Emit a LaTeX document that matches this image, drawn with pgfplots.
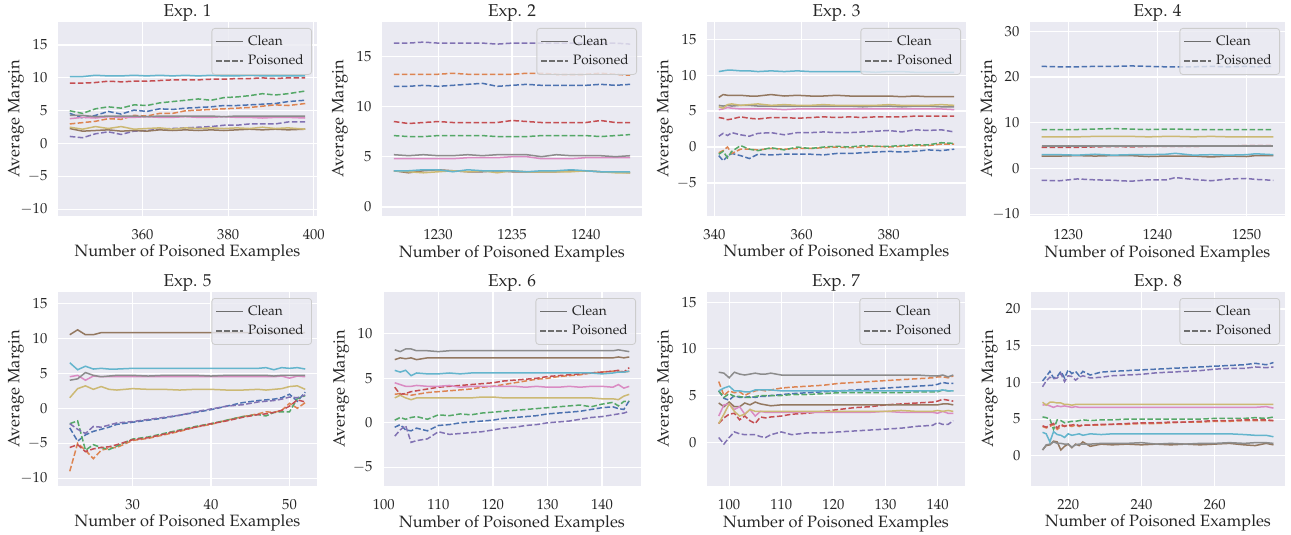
\documentclass[border=0pt]{standalone}
\usepackage[T1]{fontenc}
\usepackage{mathpazo}
\usepackage{pgfplots}
\usepackage{pgfplotstable}
\pgfplotsset{compat=1.18}

\definecolor{bgc}{HTML}{EAEAF2}
\definecolor{txt}{HTML}{262626}
\definecolor{legc}{HTML}{6E6E6E}
\definecolor{c0}{HTML}{4C72B0}
\definecolor{c1}{HTML}{DD8452}
\definecolor{c2}{HTML}{55A868}
\definecolor{c3}{HTML}{C44E52}
\definecolor{c4}{HTML}{8172B3}
\definecolor{c5}{HTML}{937860}
\definecolor{c6}{HTML}{DA8BC3}
\definecolor{c7}{HTML}{8C8C8C}
\definecolor{c8}{HTML}{CCB974}
\definecolor{c9}{HTML}{64B5CD}

% columns: x, classes 0-4 poisoned (dashed), 5-9 clean (solid)
\pgfplotstableread{
x c0 c1 c2 c3 c4 c5 c6 c7 c8 c9
343 4.6 3.0 5.0 9.2 1.1 2.3 3.8 4.3 2.5 10.2
346 3.9 3.2 4.6 9.2 0.9 1.9 4.0 4.3 2.2 10.2
349 4.3 3.4 5.3 9.3 1.5 2.0 3.9 4.1 2.6 10.4
352 4.9 3.8 5.6 9.5 1.8 2.1 4.1 4.2 2.3 10.3
355 4.5 3.7 5.4 9.4 1.4 1.9 4.0 4.2 2.6 10.3
358 5.1 4.3 5.9 9.5 1.9 2.0 4.0 4.2 2.2 10.4
361 4.9 4.2 5.8 9.5 2.0 1.9 4.1 4.1 2.3 10.3
364 5.3 4.6 6.2 9.6 2.2 2.1 4.0 4.2 2.4 10.4
367 5.2 4.6 6.4 9.7 2.3 2.0 4.0 4.2 2.2 10.3
370 5.4 5.0 6.6 9.7 2.4 2.1 4.1 4.2 2.4 10.4
373 5.5 5.1 6.8 9.7 2.5 2.0 4.0 4.2 2.3 10.3
376 5.6 5.2 6.6 9.8 2.6 2.1 4.0 4.2 2.4 10.4
379 5.8 5.3 7.0 9.8 2.8 2.0 4.1 4.1 2.3 10.3
382 5.8 5.4 7.1 9.9 2.8 2.1 4.0 4.2 2.4 10.3
385 5.9 5.5 7.3 9.9 3.0 2.2 4.0 4.2 2.3 10.4
388 6.0 5.7 7.6 10.0 3.0 2.1 3.9 4.2 2.5 10.3
391 6.1 5.9 7.4 9.9 3.0 2.2 4.0 4.2 2.3 10.3
394 6.4 5.8 7.6 10.0 3.3 2.1 4.0 4.2 2.4 10.3
398 6.6 6.1 8.0 10.0 3.3 2.2 3.9 4.2 2.2 10.3
}\expA

\pgfplotstableread{
x c0 c1 c2 c3 c4 c5 c6 c7 c8 c9
1227 12.0 13.2 7.1 8.5 16.3 3.6 4.8 5.2 3.6 3.6
1228 12.0 13.2 7.0 8.3 16.3 3.4 4.8 5.1 3.5 3.6
1229 12.1 13.2 7.0 8.4 16.4 3.6 4.8 5.2 3.4 3.7
1230 12.0 13.2 7.1 8.5 16.3 3.7 4.8 5.1 3.5 3.7
1231 12.1 13.3 7.1 8.4 16.3 3.6 4.8 5.1 3.6 3.5
1232 12.2 13.2 7.1 8.4 16.3 3.5 4.9 5.2 3.5 3.7
1233 12.3 13.2 7.1 8.4 16.3 3.5 4.9 5.1 3.6 3.6
1234 12.0 13.2 7.0 8.4 16.2 3.6 4.9 5.2 3.4 3.6
1235 12.1 13.2 7.0 8.6 16.3 3.5 5.0 5.2 3.6 3.6
1236 12.2 13.3 7.0 8.5 16.3 3.5 5.0 5.2 3.5 3.5
1237 12.1 13.3 7.1 8.4 16.3 3.5 4.8 5.0 3.5 3.6
1238 12.1 13.2 7.1 8.4 16.3 3.5 4.8 5.2 3.5 3.6
1239 12.1 13.2 7.1 8.4 16.3 3.6 4.8 5.1 3.5 3.7
1240 12.1 13.2 7.1 8.4 16.3 3.6 4.9 5.1 3.6 3.6
1241 12.2 13.3 7.0 8.6 16.3 3.5 4.9 5.1 3.5 3.5
1242 12.1 13.2 7.1 8.4 16.3 3.5 4.9 5.0 3.4 3.5
1243 12.2 13.1 7.2 8.4 16.2 3.4 4.9 5.1 3.4 3.5
}\expB

\pgfplotstableread{
x c0 c1 c2 c3 c4 c5 c6 c7 c8 c9
341 -1.2 -0.8 -1.0 4.1 1.5 6.9 5.2 5.8 5.6 10.5
342 -1.9 -0.5 -0.6 4.0 1.9 7.3 5.3 5.7 5.4 10.6
343 -1.3 0.0 -1.5 3.8 1.6 7.2 5.5 5.8 5.9 10.7
344 -0.9 -0.9 -0.6 3.9 2.0 7.2 5.4 5.7 6.0 10.7
346 -1.2 -0.3 0.2 4.2 1.7 7.2 5.3 5.8 5.8 10.6
348 -1.6 -0.3 -0.3 4.0 1.5 7.1 5.3 5.8 5.9 10.6
350 -1.0 -0.4 -0.5 3.9 1.9 7.1 5.3 5.7 6.0 10.5
353 -1.1 -0.2 -0.1 4.1 2.0 7.3 5.3 5.7 5.8 10.6
356 -1.0 -0.3 -0.4 4.1 1.7 7.1 5.2 5.7 5.9 10.5
359 -1.0 -0.2 0.0 4.0 2.0 7.2 5.3 5.7 5.8 10.6
362 -1.0 -0.2 -0.2 4.1 2.0 7.1 5.3 5.7 5.8 10.5
365 -1.1 -0.1 0.0 4.2 2.1 7.1 5.3 5.7 5.9 10.5
368 -0.9 0.0 0.1 4.1 2.0 7.2 5.3 5.7 5.8 10.5
371 -0.9 -0.1 0.0 4.2 2.0 7.1 5.3 5.7 5.8 10.5
374 -0.8 0.0 0.2 4.1 2.1 7.1 5.3 5.6 5.8 10.5
377 -0.7 0.1 0.1 4.2 2.2 7.1 5.3 5.7 5.8 10.4
380 -0.6 0.0 0.1 4.2 2.3 7.1 5.3 5.7 5.9 10.5
383 -0.7 0.1 0.2 4.2 2.1 7.0 5.3 5.6 5.8 10.5
386 -0.6 0.2 0.3 4.3 2.4 7.1 5.3 5.7 5.8 10.4
389 -0.4 0.2 0.3 4.3 2.3 7.0 5.3 5.7 5.8 10.4
392 -0.5 0.4 0.6 4.3 2.4 7.0 5.3 5.6 5.9 10.4
395 -0.3 0.4 0.5 4.3 2.1 7.0 5.2 5.6 5.8 10.4
}\expC

\pgfplotstableread{
x c0 c1 c2 c3 c4 c5 c6 c7 c8 c9
1227 22.3 4.8 8.5 4.6 -2.6 2.7 5.0 4.9 6.9 3.0
1229 22.2 4.8 8.5 4.6 -2.7 2.7 5.0 4.9 6.9 3.0
1231 22.2 4.8 8.5 4.6 -2.3 2.8 5.0 4.9 6.9 2.9
1233 22.3 4.8 8.6 4.7 -2.5 2.7 5.0 4.9 7.0 3.1
1235 22.3 4.8 8.7 4.8 -2.6 2.8 5.0 4.9 7.0 2.9
1237 22.4 4.8 8.6 4.7 -2.8 2.8 5.0 4.9 7.0 3.0
1239 22.3 4.8 8.5 4.8 -2.5 2.6 5.0 4.9 6.9 3.0
1241 22.2 4.8 8.6 4.8 -2.5 2.7 5.0 4.9 7.0 3.1
1242 22.2 4.8 8.6 4.8 -2.0 2.7 5.0 4.9 7.0 3.3
1244 22.2 4.8 8.5 4.8 -2.4 2.7 5.0 4.9 6.9 2.9
1246 22.3 4.8 8.5 4.9 -2.7 2.5 5.0 4.9 7.0 3.0
1248 22.2 4.8 8.5 4.9 -2.3 2.7 5.0 4.9 6.9 2.9
1250 22.3 4.8 8.5 5.0 -2.2 2.6 5.0 4.9 6.9 3.0
1251 22.2 4.8 8.5 5.0 -2.4 2.8 5.0 4.9 6.9 3.2
1253 22.3 4.8 8.5 5.0 -2.6 2.8 5.0 4.9 6.9 3.0
}\expD

\pgfplotstableread{
x c0 c1 c2 c3 c4 c5 c6 c7 c8 c9
22 -2.8 -9.0 -2.2 -5.6 -2.2 10.5 4.5 4.0 1.5 6.5
23 -4.7 -5.0 -1.8 -5.2 -3.0 11.2 4.7 4.2 2.8 5.5
24 -3.8 -6.0 -6.0 -6.2 -3.6 10.5 4.0 5.1 3.2 6.0
25 -3.3 -7.2 -5.2 -5.8 -2.6 10.5 4.6 4.7 2.7 5.6
26 -3.0 -6.0 -5.6 -5.6 -2.7 10.8 4.5 4.5 3.1 5.7
27 -2.7 -5.7 -5.9 -5.5 -2.4 10.8 4.5 4.6 2.7 5.6
28 -2.3 -5.6 -5.4 -5.2 -2.1 10.8 4.5 4.7 2.6 5.6
30 -2.0 -4.6 -4.4 -4.5 -1.9 10.8 4.5 4.7 2.8 5.7
32 -1.7 -4.3 -4.1 -4.2 -1.6 10.8 4.5 4.6 2.7 5.7
34 -1.4 -3.8 -3.6 -3.7 -1.3 10.8 4.5 4.7 2.7 5.7
36 -1.0 -3.3 -3.1 -3.2 -1.0 10.8 4.5 4.7 2.6 5.7
38 -0.6 -2.7 -2.6 -2.7 -0.5 10.8 4.5 4.7 2.7 5.7
40 -0.2 -2.3 -2.2 -2.2 -0.1 10.8 4.5 4.6 2.7 5.7
42 0.3 -1.7 -1.7 -1.8 0.3 10.8 4.5 4.7 2.6 5.7
44 0.8 -1.2 -1.2 -1.3 0.5 10.8 4.5 4.7 2.6 5.7
46 1.1 -0.8 -0.9 -0.9 0.9 10.8 4.5 4.7 2.7 5.7
47 1.2 -0.5 -1.1 -0.8 1.0 10.8 4.5 4.7 2.6 5.8
48 1.3 -0.6 -0.6 -0.6 1.1 10.8 4.5 4.6 2.7 5.5
49 1.5 -0.3 -0.5 -0.3 1.3 10.8 4.6 4.7 2.8 5.8
50 2.0 0.7 -0.5 0.3 1.6 10.8 4.3 4.7 3.1 5.7
51 1.0 0.0 1.4 1.2 1.5 10.8 4.6 4.7 3.2 5.8
52 2.3 0.8 1.8 0.9 1.9 10.8 4.5 4.7 2.7 5.6
}\expE

\pgfplotstableread{
x c0 c1 c2 c3 c4 c5 c6 c7 c8 c9
102 -0.5 3.2 0.3 4.0 -1.5 7.1 4.5 8.2 2.8 5.9
103 -0.2 3.3 0.6 3.2 -0.8 7.3 4.3 8.0 3.1 5.7
104 -0.8 3.2 0.4 3.3 -0.3 7.2 4.1 8.3 2.8 5.9
105 -0.9 3.1 0.6 3.5 -2.2 7.3 4.1 8.3 2.6 5.3
106 -0.6 3.2 0.7 3.6 -2.0 7.1 4.2 8.1 2.8 5.6
108 -0.9 3.4 0.4 3.8 -1.8 7.3 4.1 8.1 2.8 5.5
110 -0.3 3.5 0.9 4.0 -1.0 7.3 4.1 8.0 2.8 5.5
112 -0.2 3.6 0.8 4.1 -1.3 7.3 4.2 8.1 2.8 5.6
114 0.0 3.7 1.0 4.2 -1.2 7.3 4.0 8.1 2.8 5.5
116 0.1 3.8 0.9 4.3 -1.1 7.3 4.1 8.1 2.8 5.6
118 0.2 4.0 1.1 4.4 -1.0 7.3 4.1 8.1 2.9 5.6
120 0.3 4.1 1.2 4.5 -0.8 7.3 4.1 8.1 2.9 5.6
122 0.5 4.3 1.3 4.7 -0.6 7.3 4.1 8.1 2.8 5.6
124 0.6 4.5 1.4 4.8 -0.5 7.3 4.1 8.1 2.8 5.6
126 0.7 4.7 1.5 4.9 -0.3 7.3 4.0 8.1 2.8 5.6
128 0.8 4.9 1.6 5.0 -0.2 7.3 4.1 8.1 2.8 5.6
130 1.0 5.0 1.7 5.2 0.0 7.3 4.0 8.1 2.8 5.6
132 1.1 5.2 1.8 5.3 0.1 7.3 4.0 8.1 2.8 5.6
134 1.2 5.3 1.9 5.4 0.2 7.3 4.1 8.1 2.8 5.6
136 1.3 5.4 2.0 5.5 0.4 7.3 4.0 8.1 2.8 5.6
138 1.5 5.6 1.8 5.6 0.6 7.3 4.1 8.1 2.8 5.6
140 1.7 5.7 2.1 5.7 0.7 7.3 4.1 8.1 2.7 5.5
142 1.8 5.8 2.3 5.8 0.9 7.3 4.0 8.1 2.7 5.6
143 1.6 5.8 1.9 5.9 1.0 7.4 4.3 8.2 2.6 5.7
144 1.5 5.7 2.4 5.7 1.1 7.3 3.9 8.1 3.0 5.7
145 2.5 5.8 2.4 6.2 1.3 7.4 4.1 8.0 3.2 5.8
}\expF

\pgfplotstableread{
x c0 c1 c2 c3 c4 c5 c6 c7 c8 c9
98 5.5 6.5 5.5 2.0 0.5 4.2 2.8 7.5 2.0 5.5
99 4.7 5.0 4.8 2.6 -0.2 3.8 4.0 7.4 3.0 5.8
100 4.5 5.5 5.2 3.0 0.5 4.3 4.1 6.9 4.1 6.0
101 5.0 5.3 4.9 3.1 1.1 3.8 3.5 7.5 3.3 5.5
102 4.8 5.4 4.9 2.4 0.9 3.8 3.8 7.3 2.8 5.5
103 4.8 5.0 4.8 2.8 0.8 4.2 3.0 7.2 3.0 5.4
104 4.9 5.3 4.8 2.3 0.8 4.0 3.5 7.3 3.5 5.4
105 4.8 5.5 4.9 2.0 0.8 4.3 2.8 7.4 3.3 5.6
106 4.9 5.6 5.0 2.7 0.6 4.1 3.3 7.3 3.3 5.6
107 4.9 5.5 5.0 2.6 0.5 4.0 3.2 7.3 3.3 5.6
108 5.0 5.6 5.0 2.7 0.8 3.9 3.2 7.4 3.3 5.6
110 5.1 5.8 5.0 2.8 1.1 4.0 3.2 7.2 3.3 5.5
112 5.2 5.9 5.1 3.0 0.8 4.0 3.2 7.2 3.3 5.5
115 5.3 6.0 5.1 3.1 1.0 4.0 3.2 7.2 3.3 5.5
118 5.4 6.1 5.2 3.3 1.0 4.0 3.2 7.2 3.3 5.5
121 5.5 6.3 5.3 3.5 1.1 4.0 3.2 7.2 3.3 5.5
124 5.6 6.4 5.3 3.7 1.2 4.0 3.2 7.2 3.3 5.5
127 5.7 6.5 5.3 3.8 1.3 4.0 3.2 7.2 3.3 5.5
130 5.8 6.6 5.3 4.0 1.4 4.0 3.3 7.2 3.3 5.5
133 5.9 6.7 5.3 4.1 1.5 4.0 3.2 7.2 3.4 5.5
136 6.0 6.8 5.4 4.2 1.7 4.0 3.2 7.2 3.3 5.5
139 6.1 6.9 5.4 4.3 1.8 4.0 3.2 7.1 3.3 5.5
140 6.2 7.0 5.4 4.4 2.1 4.0 3.1 7.1 3.4 5.5
141 6.4 7.0 5.6 4.6 1.9 4.1 3.3 7.2 3.3 5.6
142 6.3 6.9 5.5 4.5 1.9 4.1 3.1 7.0 3.4 5.5
143 6.3 7.1 5.5 4.4 2.3 4.0 3.1 7.2 3.3 5.5
}\expG

\pgfplotstableread{
x c0 c1 c2 c3 c4 c5 c6 c7 c8 c9
213 10.2 4.0 5.3 4.1 9.4 0.8 6.9 0.8 7.3 3.2
214 10.8 3.8 5.2 3.9 10.2 1.4 7.0 1.5 6.9 3.0
215 11.5 4.0 5.0 4.2 10.7 1.5 6.8 1.6 7.3 1.9
216 10.6 4.3 3.6 4.4 10.5 2.0 6.6 1.9 7.3 3.3
217 10.8 3.6 4.9 3.8 10.6 1.9 6.8 1.7 7.2 2.9
218 11.5 4.0 4.8 4.3 11.2 0.8 6.7 1.7 7.2 2.8
219 10.6 4.1 4.5 4.0 10.1 1.3 6.8 1.6 7.0 2.5
220 11.7 4.1 4.6 4.2 10.9 1.6 6.7 1.6 7.0 3.0
221 11.2 4.0 4.7 4.2 10.8 1.1 6.6 1.2 6.9 2.8
222 11.5 4.2 4.7 4.3 10.3 1.6 6.7 1.5 7.0 2.9
223 10.9 4.0 4.8 4.1 10.7 1.4 6.6 1.6 7.0 3.0
224 11.5 4.2 4.9 4.2 10.9 1.9 6.6 1.6 7.0 2.8
226 11.0 4.2 4.8 4.2 10.6 1.3 6.6 1.6 7.0 3.0
229 11.4 4.2 4.9 4.3 10.7 1.6 6.6 1.7 7.0 2.9
232 11.5 4.3 4.9 4.3 10.9 1.5 6.6 1.7 7.0 3.0
236 11.6 4.3 5.0 4.4 11.0 1.6 6.6 1.7 7.0 3.0
240 11.7 4.4 5.0 4.5 11.1 1.5 6.6 1.8 7.0 3.0
244 11.8 4.4 5.0 4.5 11.3 1.6 6.6 1.6 7.0 3.0
248 11.9 4.5 5.0 4.6 11.4 1.5 6.6 1.7 7.0 3.0
252 12.0 4.6 5.0 4.6 11.5 1.6 6.6 1.6 7.0 3.0
256 12.1 4.6 5.0 4.7 11.6 1.5 6.6 1.7 7.0 3.0
260 12.2 4.7 5.1 4.8 11.8 1.6 6.6 1.7 7.0 3.0
264 12.3 4.7 5.1 4.8 11.9 1.7 6.6 1.8 7.0 3.0
268 12.4 4.8 5.1 4.9 11.9 1.5 6.6 1.7 7.0 2.9
271 12.6 4.8 5.2 4.9 12.1 1.4 6.6 1.8 7.0 2.8
274 12.4 4.8 5.1 4.9 12.0 1.7 6.7 1.8 7.0 2.8
276 12.7 4.8 5.3 4.8 12.1 1.5 6.5 1.7 7.0 2.6
}\expH

\tikzset{
  pois/.style={line width=0.75pt, dash pattern=on 2.8pt off 1.2pt},
  clean/.style={line width=0.75pt},
}

\pgfplotsset{
  every axis title shift=0pt,
  expax/.style={
    scale only axis, height=97pt, anchor=north west,
    axis background/.style={fill=bgc},
    axis line style={draw=none},
    grid=major, major grid style={line width=0.6pt, draw=white},
    tick style={draw=none},
    scaled ticks=false,
    /pgf/number format/1000 sep={},
    tick label style={font=\fontsize{7.3}{8}\selectfont, text=txt},
    xticklabel style={yshift=-3.2pt},
    yticklabel style={xshift=-1.8pt},
    label style={font=\fontsize{8.2}{9}\selectfont, text=txt},
    xlabel style={at={(axis description cs:0.5,0)}, anchor=base, yshift=-20.5pt},
    ylabel style={at={(axis description cs:-0.149,0.5)}, anchor=base},
    title style={font=\fontsize{8.6}{10}\selectfont, text=txt,
      at={(axis description cs:0.5,1)}, anchor=base, yshift=2.7pt},
    xlabel={Number of Poisoned Examples},
    ylabel={Average Margin},
    legend cell align=left,
    legend image code/.code={\draw[##1, line width=0.6pt] (0pt,0pt) -- (13.5pt,0pt);},
    legend style={at={(1,1)}, anchor=north east, xshift=-2.5pt, yshift=-3pt,
      font=\fontsize{6.8}{7.5}\selectfont, text=txt,
      draw=white!80!black, fill=bgc, fill opacity=0.8, text opacity=1,
      rounded corners=1.5pt, row sep=-0.8pt, inner xsep=2pt, inner ysep=1.5pt},
  },
}

\newcommand\drawexp[1]{%
  \addlegendimage{clean, legc}\addlegendentry{Clean}
  \addlegendimage{pois, legc}\addlegendentry{Poisoned}
  \addplot[forget plot, pois, c0] table[x=x, y=c0] {#1};
  \addplot[forget plot, pois, c1] table[x=x, y=c1] {#1};
  \addplot[forget plot, pois, c2] table[x=x, y=c2] {#1};
  \addplot[forget plot, pois, c3] table[x=x, y=c3] {#1};
  \addplot[forget plot, pois, c4] table[x=x, y=c4] {#1};
  \addplot[forget plot, clean, c5] table[x=x, y=c5] {#1};
  \addplot[forget plot, clean, c6] table[x=x, y=c6] {#1};
  \addplot[forget plot, clean, c7] table[x=x, y=c7] {#1};
  \addplot[forget plot, clean, c8] table[x=x, y=c8] {#1};
  \addplot[forget plot, clean, c9] table[x=x, y=c9] {#1};
}

\begin{document}
\begin{tikzpicture}
\useasboundingbox (0,0) rectangle (645.5pt,-267.5pt);

\begin{axis}[expax, at={(29pt,-11pt)}, width=129.5pt, title={Exp. 1},
  xmin=340.25, xmax=400.75, ymin=-11, ymax=18.5,
  xtick={360,380,400}, ytick={-10,-5,0,5,10,15}]
\drawexp{\expA}
\end{axis}

\begin{axis}[expax, at={(191pt,-11pt)}, width=130pt, title={Exp. 2},
  xmin=1226.2, xmax=1243.8, ymin=-0.9, ymax=18.4,
  xtick={1230,1235,1240}, ytick={0,5,10,15}]
\drawexp{\expB}
\end{axis}

\begin{axis}[expax, at={(353.5pt,-11pt)}, width=129.5pt, title={Exp. 3},
  xmin=338.3, xmax=397.7, ymin=-9.6, ymax=17.4,
  xtick={340,360,380}, ytick={-5,0,5,10,15}]
\drawexp{\expC}
\end{axis}

\begin{axis}[expax, at={(515pt,-11pt)}, width=127.5pt, title={Exp. 4},
  xmin=1225.7, xmax=1254.3, ymin=-10.4, ymax=32,
  xtick={1230,1240,1250}, ytick={-10,0,10,20,30}]
\drawexp{\expD}
\end{axis}

\begin{axis}[expax, at={(29pt,-146pt)}, width=129.5pt, title={Exp. 5},
  xmin=20.5, xmax=53.5, ymin=-11.1, ymax=16.6,
  xtick={30,40,50}, ytick={-10,-5,0,5,10,15}]
\drawexp{\expE}
\end{axis}

\begin{axis}[expax, at={(191.5pt,-146pt)}, width=129pt, title={Exp. 6},
  xmin=99.85, xmax=147.15, ymin=-7.1, ymax=14.7,
  xtick={100,110,120,130,140}, ytick={-5,0,5,10}]
\drawexp{\expF}
\end{axis}

\begin{axis}[expax, at={(353.5pt,-146pt)}, width=129pt, title={Exp. 7},
  xmin=95.75, xmax=145.25, ymin=-4.7, ymax=16.1,
  xtick={100,110,120,130,140}, ytick={0,5,10,15}]
\drawexp{\expG}
\end{axis}

\begin{axis}[expax, at={(515.5pt,-146pt)}, width=127pt, title={Exp. 8},
  xmin=209.85, xmax=279.15, ymin=-4.1, ymax=22.3,
  xtick={220,240,260}, ytick={0,5,10,15,20}]
\drawexp{\expH}
\end{axis}
\end{tikzpicture}
\end{document}
